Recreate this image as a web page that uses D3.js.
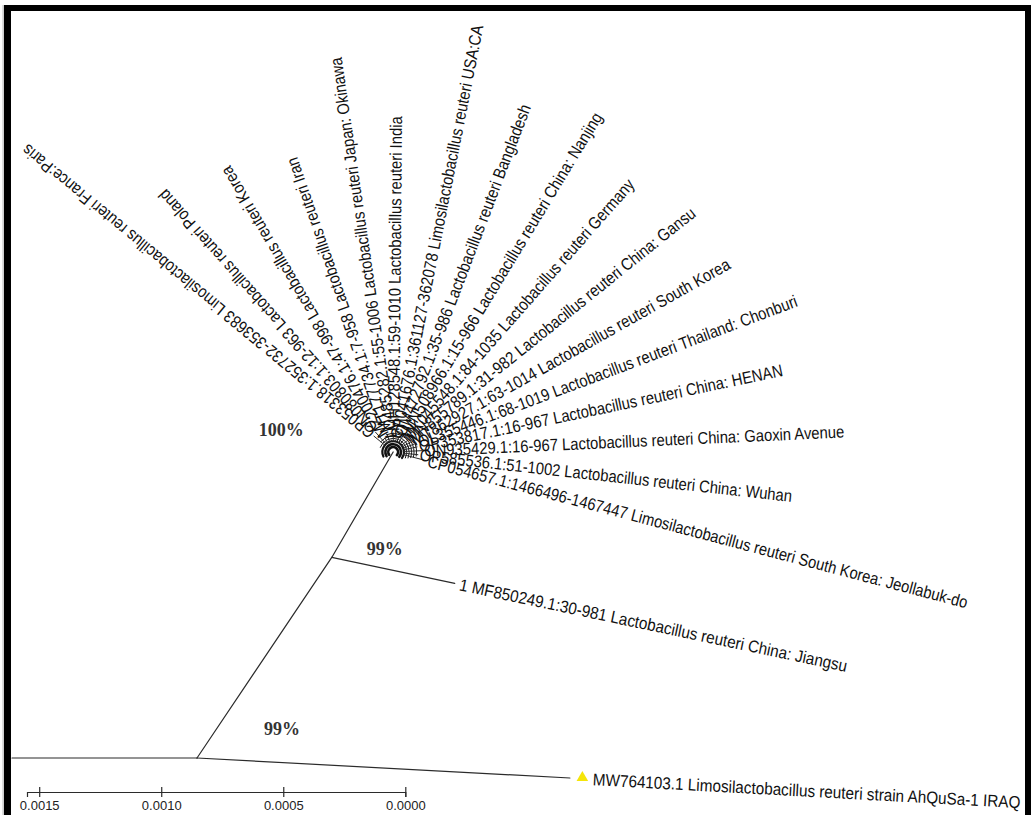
<!DOCTYPE html>
<html>
<head>
<meta charset="utf-8">
<script src="https://cdn.jsdelivr.net/npm/d3@7"></script>
<style>
  html, body { margin: 0; padding: 0; background: #fff; }
  svg { display: block; }
</style>
</head>
<body>
<svg id="chart" width="1031" height="815"></svg>
<script>
// ---------- data ----------
// Strains of the main cluster, listed clockwise around the cluster node
const leafNames = [
  "CP053318.1:352732-353683 Limosilactobacillus reuteri France:Paris",
  "ON080803.1:12-963 Lactobacillus reuteri Poland",
  "MZ200476.1:47-998 Lactobacillus reuteri Korea",
  "MT177734.1:7-958 Lactobacillus reuteri Iran",
  "LC485282.1:55-1006 Lactobacillus reuteri Japan: Okinawa",
  "MH128548.1:59-1010 Lactobacillus reuteri India",
  "CP041676.1:361127-362078 Limosilactobacillus reuteri USA:CA",
  "OM472792.1:35-986 Lactobacillus reuteri Bangladesh",
  "MN508966.1:15-966 Lactobacillus reuteri China: Nanjing",
  "MK045548.1:84-1035 Lactobacillus reuteri Germany",
  "MN855789.1:31-982 Lactobacillus reuteri China: Gansu",
  "MT862927.1:63-1014 Lactobacillus reuteri South Korea",
  "OL355446.1:68-1019 Lactobacillus reuteri Thailand: Chonburi",
  "OP353817.1:16-967 Lactobacillus reuteri China: HENAN",
  "ON935429.1:16-967 Lactobacillus reuteri China: Gaoxin Avenue",
  "OP585536.1:51-1002 Lactobacillus reuteri China: Wuhan",
  "CP054657.1:1466496-1467447 Limosilactobacillus reuteri South Korea: Jeollabuk-do"
];
// branch lengths (substitutions per site) from the cluster node
const leafLengths = [
  0.000102, 0.000109, 0.000066, 0.000078, 0.000049, 0.000078, 0.000049, 0.000066, 0.000090,
  0.000064, 0.000074, 0.000082, 0.000102, 0.000100, 0.000119, 0.000102, 0.000139
];

// backbone of the tree
const branchFrom    = ["root", "A", "A", "B", "B"];
const branchTo      = ["A", "MW764103.1", "B", "MF850249.1", "C"];
const branchLengths = [0.000758, 0.00153, 0.00099, 0.000515, 0.0005];

const tipIds    = ["MW764103.1", "MF850249.1"];
const tipLabels = [
  "MW764103.1 Limosilactobacillus reuteri strain AhQuSa-1 IRAQ",
  "1 MF850249.1:30-981 Lactobacillus reuteri China: Jiangsu"
];
const queryTip = "MW764103.1";

// bootstrap support
const bootNodes  = ["C", "B", "A"];
const bootValues = [100, 99, 99];

// scale bar
const scaleTicks = [0.0015, 0.0010, 0.0005, 0.0000];

// ---------- layout ----------
const rootPos = [12, 758];
const branchAngles = { "A": 0, "MW764103.1": 3.07, "B": -56.1, "MF850249.1": 11.9, "C": -59.8 };
const leafAngles = [
  -140.5, -131.7, -120.6, -109.1, -98.3, -89.5, -78.8, -69.1, -58.8,
  -48.7, -38.8, -29.4, -20.6, -11.9, -2.6, 6.3, 14.7
];
const bootOffsets = { "C": [-112, -22], "B": [53, -9], "A": [85, -29] };
// nested arcs of the cluster: radius (subst/site), start/end angle, width
const clusterArcs = [
  [0.000020, -215, 40, 2.6], [0.000032, -212, 38, 2.6], [0.000044, -205, 34, 2.2],
  [0.000056, -160, 26, 1], [0.000066, -140, 22, 1], [0.000076, -112, 18, 1],
  [0.000086, -80, 14, 1], [0.000096, -50, 10, 1]
];

const ink = "#2b2b2b";
const labelFont = "'Liberation Sans', Arial, sans-serif";
const labelSize = 17, labelSqueeze = 0.87, tipSqueeze = 0.9;

// ---------- drawing ----------
const svg = d3.select("#chart");

// frame
svg.append("rect").attr("x", 2.5).attr("y", 5).attr("width", 1.2).attr("height", 810).attr("fill", "#bdbdbd");
svg.append("rect").attr("x", 4).attr("y", 5).attr("width", 7).attr("height", 810).attr("fill", "#000");
svg.append("rect").attr("x", 4).attr("y", 5).attr("width", 1027).attr("height", 6).attr("fill", "#000");
svg.append("rect").attr("x", 1025).attr("y", 5).attr("width", 6).attr("height", 810).attr("fill", "#000");

// distance scale (reversed, as in the scale bar) and branch-length scale tied to it
const x = d3.scaleLinear().domain([0.00155, 0]).range([27, 405.3]);
const len = d3.scaleLinear().domain([0, 0.00155]).range([0, x(0) - x(0.00155)]);
const rad = d => d * Math.PI / 180;

// node positions
const pos = { root: rootPos };
branchTo.forEach((id, i) => {
  const p = pos[branchFrom[i]];
  const a = rad(branchAngles[id]);
  const r = len(branchLengths[i]);
  pos[id] = [p[0] + r * Math.cos(a), p[1] + r * Math.sin(a)];
});

const tree = svg.append("g").attr("stroke", ink).attr("fill", "none").attr("stroke-linecap", "round");

tree.selectAll("line.branch")
  .data(branchTo.map((id, i) => ({ s: pos[branchFrom[i]], t: pos[id] })))
  .join("line").attr("class", "branch")
  .attr("x1", d => d.s[0]).attr("y1", d => d.s[1])
  .attr("x2", d => d.t[0]).attr("y2", d => d.t[1])
  .attr("stroke-width", 1.2);

// cluster
const C = pos["C"];
const leaves = leafNames.map((name, i) => {
  const a = rad(leafAngles[i]);
  const r = len(leafLengths[i]);
  return { name, deg: leafAngles[i], a, r, tip: [C[0] + r * Math.cos(a), C[1] + r * Math.sin(a)] };
});

tree.selectAll("path.arc")
  .data(clusterArcs)
  .join("path").attr("class", "arc")
  .attr("d", d => {
    const p = d3.path();
    const r = len(d[0]), a0 = rad(d[1]), a1 = rad(d[2]);
    p.moveTo(C[0] + r * Math.cos(a0), C[1] + r * Math.sin(a0));
    p.arc(C[0], C[1], r, a0, a1);
    return p.toString();
  })
  .attr("stroke", "#111")
  .attr("stroke-width", d => d[3]);

tree.selectAll("line.spoke")
  .data(leaves)
  .join("line").attr("class", "spoke")
  .attr("x1", d => C[0] + len(0.000044) * Math.cos(d.a))
  .attr("y1", d => C[1] + len(0.000044) * Math.sin(d.a))
  .attr("x2", d => d.tip[0]).attr("y2", d => d.tip[1])
  .attr("stroke-width", 1);

// leaf labels, rotated along their branch
function placeLabel(sel, pt, deg, gap, squeeze) {
  const a = rad(deg);
  const lx = pt[0] + gap * Math.cos(a), ly = pt[1] + gap * Math.sin(a);
  sel.attr("transform", `translate(${lx},${ly}) rotate(${deg}) scale(${squeeze},1)`);
}

svg.append("g").selectAll("text")
  .data(leaves)
  .join("text")
  .attr("font-family", labelFont).attr("font-size", labelSize)
  .attr("fill", "#111").attr("dy", "0.35em")
  .text(d => d.name)
  .each(function (d) { placeLabel(d3.select(this), d.tip, d.deg, 2, labelSqueeze); });

// backbone tips
tipIds.forEach((id, i) => {
  const deg = branchAngles[id];
  const isQuery = id === queryTip;
  if (isQuery) {
    const a = rad(deg);
    svg.append("path")
      .attr("d", d3.symbol(d3.symbolTriangle, 58)())
      .attr("transform", `translate(${pos[id][0] + 12.5 * Math.cos(a)},${pos[id][1] + 12.5 * Math.sin(a) - 1})`)
      .attr("fill", "#f5e50a");
  }
  const t = svg.append("text")
    .attr("font-family", labelFont).attr("font-size", labelSize)
    .attr("fill", "#111").attr("dy", "0.35em")
    .text(tipLabels[i]);
  placeLabel(t, pos[id], deg, isQuery ? 23 : 5, tipSqueeze);
});

// bootstrap values
svg.append("g").selectAll("text")
  .data(bootNodes.map((n, i) => ({ n, v: bootValues[i] })))
  .join("text")
  .attr("x", d => pos[d.n][0] + bootOffsets[d.n][0])
  .attr("y", d => pos[d.n][1] + bootOffsets[d.n][1])
  .attr("dy", "0.35em")
  .attr("text-anchor", "middle")
  .attr("font-family", "'Liberation Serif', 'Times New Roman', serif")
  .attr("font-weight", "bold").attr("font-size", 18)
  .attr("fill", "#333")
  .text(d => d.v + "%");

// scale bar
const axisG = svg.append("g")
  .attr("transform", "translate(0,792)")
  .call(d3.axisBottom(x).tickValues(scaleTicks).tickFormat(d3.format(".4f")).tickSizeOuter(0).tickSize(5));
axisG.select(".domain").attr("stroke", ink).attr("stroke-width", 1.2);
axisG.selectAll(".tick line").attr("y1", -5).attr("y2", 5).attr("stroke", ink).attr("stroke-width", 1.2);
axisG.selectAll(".tick text")
  .attr("y", 9).attr("dy", "0.71em")
  .attr("font-family", labelFont).attr("font-size", 13).attr("fill", "#222");
</script>
</body>
</html>
